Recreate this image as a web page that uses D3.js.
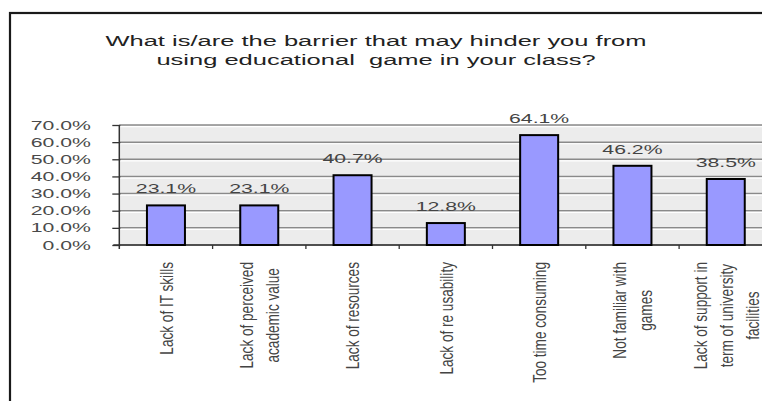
<!DOCTYPE html>
<html>
<head>
<meta charset="utf-8">
<script src="https://cdn.jsdelivr.net/npm/d3@7"></script>
<style>
  html, body { margin: 0; padding: 0; background: #fff; overflow: hidden; }
  text { font-family: "Liberation Sans", Arial, sans-serif; }
</style>
</head>
<body>
<svg id="chart" width="762" height="401"></svg>
<script>
// Survey answers: barriers to using educational games in class
const titleLines = [
  "What is/are the barrier that may hinder you from",
  "using educational  game in your class?"
];
const categories = [
  "Lack of IT skills",
  "Lack of perceived\nacademic value",
  "Lack of resources",
  "Lack of re usability",
  "Too time consuming",
  "Not familiar with\ngames",
  "Lack of support in\nterm of university\nfacilities"
];
const values = [23.1, 23.1, 40.7, 12.8, 64.1, 46.2, 38.5];
const yTicks = [0, 10, 20, 30, 40, 50, 60, 70];

const svg = d3.select("#chart");
const SX = 1.7;          // horizontal stretch of the horizontal text
const plot = { left: 119.3, top: 125, bottom: 245, step: 93.3 };
plot.right = plot.left + plot.step * categories.length;

// outer chart frame (runs past the right and bottom edges)
svg.append("rect")
  .attr("x", 10).attr("y", 13)
  .attr("width", 800).attr("height", 450)
  .attr("fill", "#fff").attr("stroke", "#1a1a1a").attr("stroke-width", 2.2);

// title
svg.append("g").selectAll("text")
  .data(titleLines)
  .join("text")
  .attr("transform", (d, i) => `translate(376,${46 + i * 19}) scale(${SX},1)`)
  .attr("text-anchor", "middle")
  .attr("font-size", 15)
  .attr("fill", "#222")
  .style("white-space", "pre")
  .text(d => d);

const x = d3.scaleBand()
  .domain(categories)
  .range([plot.left, plot.right])
  .paddingInner(0).paddingOuter(0);

const y = d3.scaleLinear()
  .domain([0, 70])
  .range([plot.bottom, plot.top]);

// plot area background
svg.append("rect")
  .attr("x", plot.left).attr("y", plot.top)
  .attr("width", plot.right - plot.left).attr("height", plot.bottom - plot.top)
  .attr("fill", "#ececec");

// horizontal gridlines
const grid = svg.append("g");
grid.selectAll("line.g")
  .data(yTicks)
  .join("line")
  .attr("class", "g")
  .attr("x1", plot.left).attr("x2", plot.right)
  .attr("y1", d => y(d)).attr("y2", d => y(d))
  .attr("stroke", "#8a8a8a").attr("stroke-width", 1.5);
grid.selectAll("line.w")
  .data(yTicks.filter(d => d > 0))
  .join("line")
  .attr("class", "w")
  .attr("x1", plot.left).attr("x2", plot.right)
  .attr("y1", d => y(d) + 1.6).attr("y2", d => y(d) + 1.6)
  .attr("stroke", "#fff").attr("stroke-width", 1.2);

// y axis
const yAxis = svg.append("g")
  .attr("transform", `translate(${plot.left},0)`)
  .call(d3.axisLeft(y).tickValues(yTicks).tickSize(7).tickFormat(""));
yAxis.select(".domain").attr("stroke", "#333").attr("stroke-width", 1.5)
  .attr("d", `M0,${plot.top}V${plot.bottom + 4}`);
yAxis.selectAll(".tick line").attr("stroke", "#333").attr("stroke-width", 1.3)
  .attr("x2", -7).attr("x1", 1);

// y tick labels
svg.append("g").selectAll("text")
  .data(yTicks)
  .join("text")
  .attr("transform", d => `translate(91,${y(d)}) scale(${SX},1)`)
  .attr("text-anchor", "end")
  .attr("dy", "0.36em")
  .attr("font-size", 12.5)
  .attr("fill", "#4a4a4a")
  .text(d => d3.format(".1f")(d) + "%");

// x axis with category boundary ticks
const xAxis = svg.append("g")
  .attr("transform", `translate(0,${plot.bottom})`);
xAxis.append("line")
  .attr("x1", plot.left - 6).attr("x2", plot.right)
  .attr("stroke", "#333").attr("stroke-width", 1.5);
xAxis.selectAll("line.t")
  .data(categories.slice(1))
  .join("line")
  .attr("class", "t")
  .attr("x1", d => x(d)).attr("x2", d => x(d))
  .attr("y1", 0).attr("y2", 4)
  .attr("stroke", "#333").attr("stroke-width", 1.3);

// bars
const barW = 38;
svg.append("g").selectAll("rect")
  .data(values)
  .join("rect")
  .attr("x", (d, i) => x(categories[i]) + x.bandwidth() / 2 - barW / 2)
  .attr("y", d => y(d))
  .attr("width", barW)
  .attr("height", d => y(0) - y(d))
  .attr("fill", "#9999ff")
  .attr("stroke", "#000").attr("stroke-width", 2);

// value labels
svg.append("g").selectAll("text")
  .data(values)
  .join("text")
  .attr("transform", (d, i) => `translate(${x(categories[i]) + x.bandwidth() / 2},${y(d) - 12}) scale(${SX},1)`)
  .attr("text-anchor", "middle")
  .attr("font-size", 12.5)
  .attr("fill", "#444")
  .text(d => d3.format(".1f")(d) + "%");

// rotated category labels, lines centred, block top-aligned under the axis
const LABEL_TOP = 262, LINE_GAP = 26, LSX = 1.35;
const labels = svg.append("g");
categories.forEach(cat => {
  const lines = cat.split("\n");
  const cx = x(cat) + x.bandwidth() / 2;
  const g = labels.append("g");
  const t = g.selectAll("text")
    .data(lines)
    .join("text")
    .attr("font-size", 13.6)
    .attr("fill", "#444")
    .attr("text-anchor", "middle")
    .attr("dominant-baseline", "central")
    .text(d => d);
  const maxLen = d3.max(t.nodes(), n => n.getComputedTextLength());
  const cy = LABEL_TOP + maxLen / 2;
  t.attr("transform", (d, i) => {
    const off = (i - (lines.length - 1) / 2) * LINE_GAP;
    return `translate(${cx + off},${cy}) scale(${LSX},1) rotate(-90)`;
  });
});
</script>
</body>
</html>
